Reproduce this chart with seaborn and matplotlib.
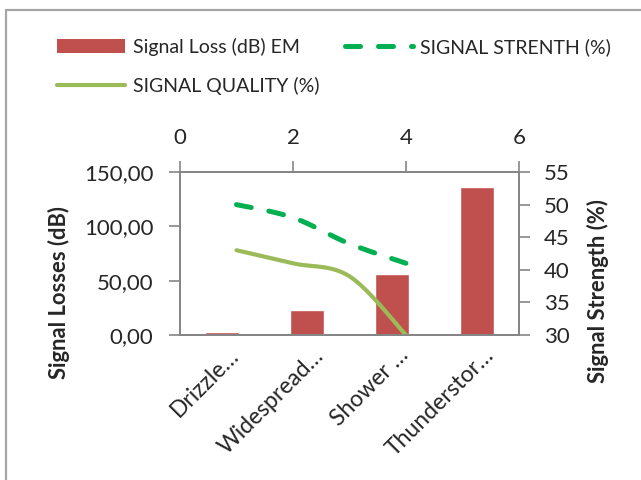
import numpy as np
import pandas as pd
import matplotlib
matplotlib.use("Agg")
import matplotlib.pyplot as plt
import matplotlib.transforms as mtransforms
import seaborn as sns
from matplotlib.lines import Line2D
from matplotlib.patches import Patch
from matplotlib.ticker import FuncFormatter, FixedLocator

# ---- data -------------------------------------------------------------
categories = ["Drizzle…", "Widespread…", "Shower …", "Thunderstor…"]
signal_loss_db = [3.0, 23.0, 56.0, 136.0]

line_x = [1, 2, 3, 4]
signal_strength_pct = [50, 48, 44, 41]
signal_quality_pct = [43, 41, 39, 30]

loss_ticks = [0, 50, 100, 150]
pct_ticks = [30, 35, 40, 45, 50, 55]
top_ticks = [0, 2, 4, 6]

# ---- style ------------------------------------------------------------
sns.set_theme(style="white")
plt.rcParams["font.family"] = ["Lato", "DejaVu Sans"]

RED = "#C0504D"
GREEN = "#00B050"
OLIVE = "#9BBB59"
AXIS_GREY = "#868686"
FS = 16


def smooth_curve(xs, ys, n=40):
    """Bezier smoothing through the given points (Catmull-Rom tangents)."""
    x = np.asarray(xs, float)
    y = np.asarray(ys, float)
    px = np.concatenate([[x[0]], x, [x[-1]]])
    py = np.concatenate([[y[0]], y, [y[-1]]])
    out_x, out_y = [], []
    t = np.linspace(0, 1, n)
    for i in range(1, len(px) - 2):
        p0, p1, p2, p3 = (np.array([px[j], py[j]]) for j in (i - 1, i, i + 1, i + 2))
        c1 = p1 + (p2 - p0) / 6.0
        c2 = p2 - (p3 - p1) / 6.0
        pts = ((1 - t) ** 3)[:, None] * p1 + (3 * (1 - t) ** 2 * t)[:, None] * c1 \
            + (3 * (1 - t) * t ** 2)[:, None] * c2 + (t ** 3)[:, None] * p2
        out_x.extend(pts[:, 0])
        out_y.extend(pts[:, 1])
    return np.array(out_x), np.array(out_y)


fig = plt.figure(figsize=(6.41, 4.80), dpi=100)
fig.patch.set_facecolor("white")

ax = fig.add_axes([180 / 641, 1 - 335 / 480, 339 / 641, 163 / 480])

# bars: signal loss per rain category
df = pd.DataFrame({"category": categories, "loss": signal_loss_db})
sns.barplot(data=df, x="category", y="loss", color=RED, saturation=1,
            width=0.4, ax=ax)
ax.set_xlim(-0.5, len(categories) - 0.5)
ax.set_ylim(0, 150)
ax.yaxis.set_major_locator(FixedLocator(loss_ticks))
ax.yaxis.set_major_formatter(FuncFormatter(lambda v, p: f"{v:.2f}".replace(".", ",")))
ax.set_xlabel("")
ax.set_ylabel("Signal Losses (dB)", fontsize=15.8, fontweight="bold")
ax.yaxis.set_label_coords(-0.325, 0.26)

# category boundaries as major ticks, labels on minor ticks at centres
ax.xaxis.set_major_locator(FixedLocator(np.arange(-0.5, len(categories), 1.0)))
ax.xaxis.set_major_formatter(FuncFormatter(lambda v, p: ""))
ax.set_xticks(np.arange(len(categories)), labels=categories, minor=True)
ax.tick_params(axis="x", which="minor", length=0, pad=7, labelsize=16.5)
ax.tick_params(axis="x", which="major", length=8, width=1.2, color=AXIS_GREY,
               direction="out")
ax.tick_params(axis="y", length=8, width=1.2, color=AXIS_GREY, direction="out",
               labelsize=FS, pad=11)
offset = mtransforms.ScaledTranslation(21 / 100, 0, fig.dpi_scale_trans)
for lbl in ax.get_xticklabels(minor=True):
    lbl.set_rotation(45)
    lbl.set_ha("right")
    lbl.set_va("top")
    lbl.set_transform(lbl.get_transform() + offset)

# right axis (percent) and top axis (0..6) for the lines
ax2 = ax.twinx()
ax3 = ax2.twiny()
ax2.set_ylim(30, 55)
ax2.yaxis.set_major_locator(FixedLocator(pct_ticks))
ax2.set_ylabel("Signal Strength (%)", fontsize=15.8, fontweight="bold")
ax2.yaxis.set_label_coords(1.20, 0.27)
ax2.tick_params(axis="y", length=8, width=1.2, color=AXIS_GREY, direction="out",
                labelsize=FS, pad=10)

ax3.set_xlim(0, 6)
ax3.xaxis.set_major_locator(FixedLocator(top_ticks))
ax3.tick_params(axis="x", length=8, width=1.2, color=AXIS_GREY, direction="out",
                labelsize=FS, pad=9.5)

sx, sy = smooth_curve(line_x, signal_strength_pct)
ax3.plot(sx, sy, color=GREEN, lw=3.6, dashes=(3.0, 3.6),
         dash_capstyle="round", solid_capstyle="round")
qx, qy = smooth_curve(line_x, signal_quality_pct)
ax3.plot(qx, qy, color=OLIVE, lw=3.0, solid_capstyle="round")

for a in (ax, ax2, ax3):
    for s in a.spines.values():
        s.set_color(AXIS_GREY)
        s.set_linewidth(1.2)
    a.grid(False)

# legend
handles = [
    Patch(facecolor=RED, edgecolor="none"),
    Line2D([], [], color=OLIVE, lw=3.0, solid_capstyle="round"),
    Line2D([], [], color=GREEN, lw=3.6, dashes=(3.0, 3.6), dash_capstyle="round"),
]
labels = ["Signal Loss (dB) EM", "SIGNAL QUALITY (%)", "SIGNAL STRENTH (%)"]
fig.legend(handles, labels, ncol=2, loc="upper left",
           bbox_to_anchor=(57 / 641, 1 - 38 / 480), frameon=False, fontsize=14,
           handlelength=3.5, handletextpad=0.4, labelspacing=1.05,
           columnspacing=1.3, borderaxespad=0, borderpad=0)

# outer frame (left and top edges)
fig.add_artist(Line2D([5.5 / 641, 5.5 / 641], [0, 1 - 9.5 / 480],
                      transform=fig.transFigure, color="#A6A6A6", lw=1.6))
fig.add_artist(Line2D([5.5 / 641, 1], [1 - 9.5 / 480, 1 - 9.5 / 480],
                      transform=fig.transFigure, color="#A6A6A6", lw=1.6))

fig.savefig("out.png", dpi=100, facecolor="white")
